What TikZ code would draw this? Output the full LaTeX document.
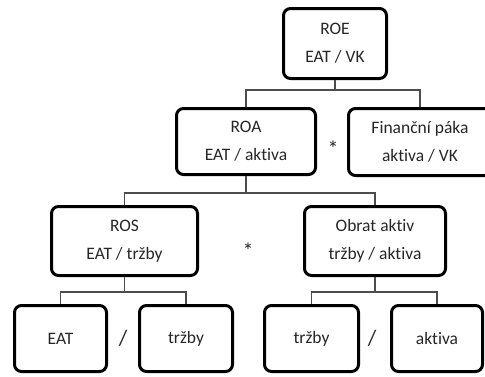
\documentclass[tikz,border=0pt]{standalone}
\usepackage{fontspec}
\setmainfont{Carlito}[Ligatures=NoCommon]
\begin{document}
\begin{tikzpicture}[x=1pt,y=-1pt,
  box/.style={draw=black, line width=3pt, rounded corners=7pt, align=center, inner sep=0pt,
    font=\fontsize{17.5}{28}\selectfont, text=black!85},
  link/.style={draw=black!70, line width=1.2pt},
  op/.style={font=\fontsize{22}{24}\selectfont, inner sep=0pt, text=black!85}]
\clip (0,0) rectangle (485,376);
% boxes
\node[box, minimum width=103pt, minimum height=70pt] (roe) at (335,43.5) {ROE\\EAT / VK};
\node[box, minimum width=139pt, minimum height=66pt] (roa) at (246,141.5) {ROA\\EAT / aktiva};
\node[box, minimum width=143pt, minimum height=67pt] (fin) at (420,142) {Finanční páka\\aktiva / VK};
\node[box, minimum width=146pt, minimum height=69pt] (ros) at (124.5,241) {ROS\\EAT / tržby};
\node[box, minimum width=141pt, minimum height=69pt] (obr) at (375,241) {Obrat aktiv\\tržby / aktiva};
\node[box, minimum width=92pt, minimum height=66pt] (eat) at (60.5,338.5) {EAT};
\node[box, minimum width=93pt, minimum height=66pt] (trz) at (186,338.5) {tržby};
\node[box, minimum width=94pt, minimum height=66pt] (trzb) at (311.5,338.5) {tržby};
\node[box, minimum width=91pt, minimum height=66pt] (akt) at (437,338.5) {aktiva};
% operators
\node[op] (s1) at (333,149) {*};
\node[op] (s2) at (248,251) {*};
\node[op] (d1) at (123,338) {/};
\node[op] (d2) at (372,338) {/};
% fork points
\coordinate (f1) at (335,90);
\coordinate (f2) at (246,193);
\coordinate (f3) at (124.5,292);
\coordinate (f4) at (375,292);
% connectors
\draw[link] (roe.south) -- (f1);
\draw[link] (roa.north) |- (f1) -| (fin.north);
\draw[link] (roa.south) -- (f2);
\draw[link] (ros.north) |- (f2) -| (obr.north);
\draw[link] (ros.south) -- (f3);
\draw[link] (eat.north) |- (f3) -| (trz.north);
\draw[link] (obr.south) -- (f4);
\draw[link] (trzb.north) |- (f4) -| (akt.north);
\end{tikzpicture}
\end{document}
